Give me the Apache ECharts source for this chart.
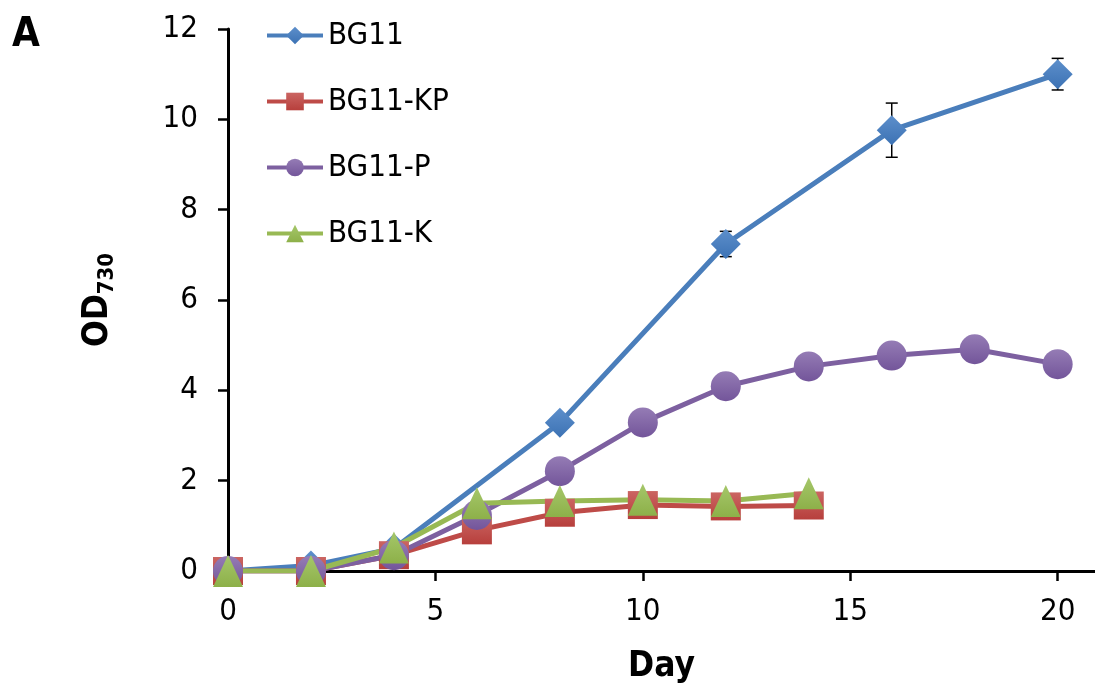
<!DOCTYPE html>
<html>
<head>
<meta charset="utf-8">
<script src="https://cdn.jsdelivr.net/npm/echarts@6/dist/echarts.min.js"></script>
<style>
  html, body { margin: 0; padding: 0; background: #fff; }
  #chart { width: 1095px; height: 686px; }
</style>
</head>
<body>
<div id="chart"></div>
<script>
const FONT = '"DejaVu Sans Condensed", "Open Sans", sans-serif';

// day of measurement
const bg11Days = [0, 2, 4, 8, 12, 16, 20];
const bg11 = [0, 0.12, 0.5, 3.28, 7.24, 9.76, 11.0];
const bg11Err = [0, 0, 0, 0, 0.28, 0.6, 0.35];

const days14 = [0, 2, 4, 6, 8, 10, 12, 14];
const bg11KP = [0, 0, 0.35, 0.9, 1.29, 1.46, 1.43, 1.45];
const bg11K = [0, 0, 0.52, 1.5, 1.55, 1.58, 1.55, 1.72];

const days20 = [0, 2, 4, 6, 8, 10, 12, 14, 16, 18, 20];
const bg11P = [0, 0, 0.35, 1.24, 2.21, 3.29, 4.09, 4.53, 4.77, 4.91, 4.58];

const xTicks = [0, 5, 10, 15, 20];

const pair = (xs, ys) => xs.map((x, i) => [x, ys[i]]);

const grad = (top, bottom) => new echarts.graphic.LinearGradient(0, 0, 0, 1, [
  {offset: 0, color: top},
  {offset: 1, color: bottom}
]);

const lineSeries = (name, data, lineColor, symbol, size, top, bottom) => ({
  name: name,
  type: 'line',
  data: data,
  symbol: symbol,
  symbolSize: size,
  showAllSymbol: true,
  lineStyle: {color: lineColor, width: 5},
  itemStyle: {color: grad(top, bottom), borderWidth: 0},
  emphasis: {disabled: true},
  z: 3
});

const errData = bg11Days
  .map((d, i) => [d, bg11[i] - bg11Err[i], bg11[i] + bg11Err[i]])
  .filter((v, i) => bg11Err[i] > 0);

const chart = echarts.init(document.getElementById('chart'));

chart.setOption({
  animation: false,
  backgroundColor: '#fff',
  textStyle: {fontFamily: FONT},
  graphic: [{
    type: 'text',
    left: 12,
    top: 16,
    style: {text: 'A', fontSize: 40, fontWeight: 'bold', fontFamily: FONT, fill: '#000'}
  }],
  legend: {
    orient: 'vertical',
    left: 265,
    top: 20,
    padding: 0,
    itemWidth: 56,
    itemHeight: 22,
    itemGap: 35,
    itemTextGap: 3,
    itemStyle: {borderWidth: 0},
    lineStyle: {width: 4},
    textStyle: {fontSize: 31, lineHeight: 30, color: '#000', fontFamily: FONT},
    data: ['BG11', 'BG11-KP', 'BG11-P', 'BG11-K']
  },
  grid: {left: 228, right: 0, top: 29, bottom: 115, outerBoundsMode: 'none'},
  xAxis: {
    type: 'value',
    min: 0,
    max: 20.9,
    interval: 5,
    name: 'Day',
    nameLocation: 'middle',
    nameGap: 78,
    nameTextStyle: {fontSize: 35, fontWeight: 'bold', color: '#000', fontFamily: FONT},
    axisLine: {lineStyle: {color: '#000', width: 3}},
    axisTick: {length: 10, lineStyle: {color: '#000', width: 2.5}, customValues: xTicks},
    axisLabel: {fontSize: 31, color: '#000', margin: 25, customValues: xTicks},
    splitLine: {show: false}
  },
  yAxis: {
    type: 'value',
    min: 0,
    max: 12,
    interval: 2,
    name: '{a|OD}{b|730}',
    nameLocation: 'middle',
    nameGap: 110,
    nameRotate: 90,
    nameTextStyle: {
      color: '#000',
      rich: {
        a: {fontSize: 35, fontWeight: 'bold', fontFamily: FONT, color: '#000', lineHeight: 40},
        b: {fontSize: 22, fontWeight: 'bold', fontFamily: FONT, color: '#000', verticalAlign: 'bottom', lineHeight: 28}
      }
    },
    axisLine: {show: true, lineStyle: {color: '#000', width: 3}},
    axisTick: {show: true, length: 10, lineStyle: {color: '#000', width: 2.5}},
    axisLabel: {fontSize: 31, color: '#000', margin: 30},
    splitLine: {show: false}
  },
  series: [
    {
      type: 'custom',
      name: 'err',
      data: errData,
      z: 2,
      silent: true,
      renderItem: (params, api) => {
        const lo = api.coord([api.value(0), api.value(1)]);
        const hi = api.coord([api.value(0), api.value(2)]);
        const w = 6;
        const st = {stroke: '#000', lineWidth: 1.5};
        return {
          type: 'group',
          children: [
            {type: 'line', shape: {x1: lo[0], y1: lo[1], x2: hi[0], y2: hi[1]}, style: st},
            {type: 'line', shape: {x1: lo[0] - w, y1: lo[1], x2: lo[0] + w, y2: lo[1]}, style: st},
            {type: 'line', shape: {x1: hi[0] - w, y1: hi[1], x2: hi[0] + w, y2: hi[1]}, style: st}
          ]
        };
      }
    },
    lineSeries('BG11', pair(bg11Days, bg11), '#4A7EBB', 'diamond', 30, '#5D8FCB', '#3C72B4'),
    lineSeries('BG11-KP', pair(days14, bg11KP), '#BE4B48', 'rect', [30, 28], '#CB6562', '#B73F3C'),
    lineSeries('BG11-P', pair(days20, bg11P), '#7D60A0', 'circle', 30, '#957CB5', '#73559A'),
    lineSeries('BG11-K', pair(days14, bg11K), '#98B954', 'triangle', [30, 32], '#A5C76A', '#8DB049')
  ]
});
</script>
</body>
</html>
